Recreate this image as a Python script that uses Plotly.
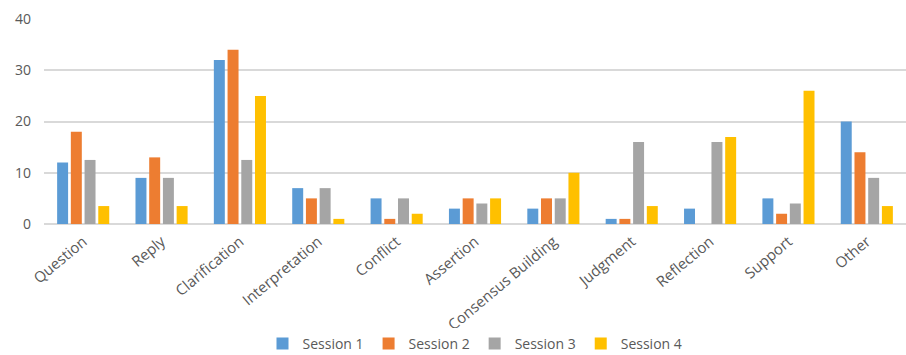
import plotly.graph_objects as go

categories = ["Question", "Reply", "Clarification", "Interpretation", "Conflict",
              "Assertion", "Consensus Building", "Judgment", "Reflection", "Support", "Other"]
session1 = [12, 9, 32, 7, 5, 3, 3, 1, 3, 5, 20]
session2 = [18, 13, 34, 5, 1, 5, 5, 1, 0, 2, 14]
session3 = [12.5, 9, 12.5, 7, 5, 4, 5, 16, 16, 4, 9]
session4 = [3.5, 3.5, 25, 1, 2, 5, 10, 3.5, 17, 26, 3.5]
series_names = ["Session 1", "Session 2", "Session 3", "Session 4"]
colors = ["#5B9BD5", "#ED7D31", "#A5A5A5", "#FFC000"]
y_ticks = [0, 10, 20, 30, 40]

fig = go.Figure()
for name, vals, c in zip(series_names, [session1, session2, session3, session4], colors):
    fig.add_trace(go.Bar(x=categories, y=vals, name=name, marker_color=c,
                         marker_line_width=0))

fig.update_layout(
    width=906, height=355,
    margin=dict(l=44, r=0, t=19, b=131, autoexpand=False),
    paper_bgcolor="white", plot_bgcolor="white",
    barmode="group", bargap=0.3, bargroupgap=0.2,
    font=dict(family="Open Sans", color="#595959"),
    legend=dict(orientation="h", x=0.5, xanchor="center", y=-0.585, yanchor="middle",
                font=dict(size=14, color="#595959"), traceorder="normal",
                itemwidth=30),
    showlegend=True,
)
fig.update_xaxes(tickangle=-40, tickfont=dict(size=15, color="#595959"),
                 showgrid=False, showline=False, ticks="", automargin=False,
                 ticklabelstandoff=5)
fig.update_yaxes(range=[0, 40], tickvals=y_ticks, tickfont=dict(size=14, color="#595959"),
                 showgrid=True, gridcolor="#D9D9D9", gridwidth=1.5,
                 zeroline=True, zerolinecolor="#D9D9D9", zerolinewidth=1.5,
                 showline=False, ticklabelstandoff=12, automargin=False)
fig.write_html("out.html")
